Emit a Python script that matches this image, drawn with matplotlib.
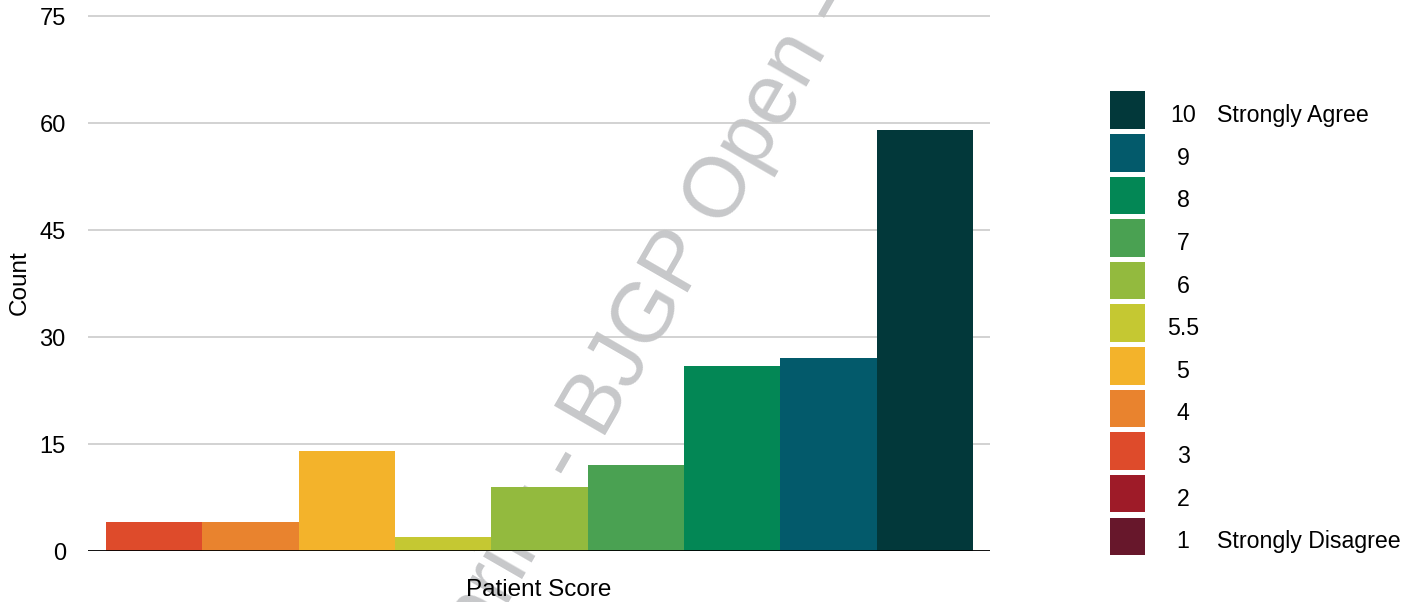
import matplotlib.pyplot as plt
from matplotlib.patches import Rectangle

plt.rcParams.update(
    {
        "font.family": "Liberation Sans",
        "font.size": 17,
    }
)

# patient scores (legend order, low to high) and how many patients gave each
scores = ["1", "2", "3", "4", "5", "5.5", "6", "7", "8", "9", "10"]
counts = [0, 0, 4, 4, 14, 2, 9, 12, 26, 27, 59]
score_notes = {"1": "Strongly Disagree", "10": "Strongly Agree"}
palette = ["#67172b", "#9e1b28", "#de4b2b", "#e9832e", "#f3b32b", "#c5c832",
           "#93ba3e", "#4aa152", "#038755", "#035a6b", "#02383a"]
y_ticks = [0, 15, 30, 45, 60, 75]

W, H = 1416, 602
fig = plt.figure(figsize=(W / 100, H / 100), dpi=100)

# main axes, placed in pixel terms
ax = fig.add_axes([88 / W, (H - 551) / H, (990 - 88) / W, (551 - 15) / H])
ax.patch.set_alpha(0)
shown = [i for i, c in enumerate(counts) if c > 0]
for pos, i in enumerate(shown):
    ax.bar(pos, counts[i], width=1.0, color=palette[i], linewidth=0, zorder=2)

ax.set_xlim(-0.687, len(shown) - 0.5 + 0.176)
ax.set_ylim(0, 75.15)
ax.set_yticks(y_ticks)
ax.set_xticks([])
ax.grid(axis="y", color="#c6c6c6", linewidth=1.1, zorder=0)
ax.axhline(0, color="black", linewidth=2, zorder=3)
for s in ax.spines.values():
    s.set_visible(False)
ax.tick_params(axis="y", length=0, pad=16)
ax.set_ylabel("Count", fontsize=17.5, labelpad=6)
ax.set_xlabel("Patient Score", fontsize=17.5, labelpad=20)

# legend on the right, highest score on top
top = 91.5
pitch = 42.6
box_h = 37.5
for k, i in enumerate(reversed(range(len(scores)))):
    y0 = top + k * pitch
    fig.patches.append(
        Rectangle((1110 / W, 1 - (y0 + box_h) / H), 35 / W, box_h / H,
                  transform=fig.transFigure, color=palette[i], linewidth=0)
    )
    yb = 1 - (y0 + box_h / 2 + 12) / H
    fig.text(1183 / W, yb, scores[i], ha="center", va="baseline", fontsize=16.7)
    if scores[i] in score_notes:
        fig.text(1217 / W, yb, score_notes[scores[i]], ha="left",
                 va="baseline", fontsize=16.7)

# preprint watermark, behind the bars
fig.text(696 / W, 1 - 235 / H, "Preprint - BJGP Open - Preprint",
         fontsize=61, color="#c7c8ca", rotation=60,
         rotation_mode="anchor", ha="center", va="center", zorder=-1)

fig.savefig("out.png", dpi=100)
